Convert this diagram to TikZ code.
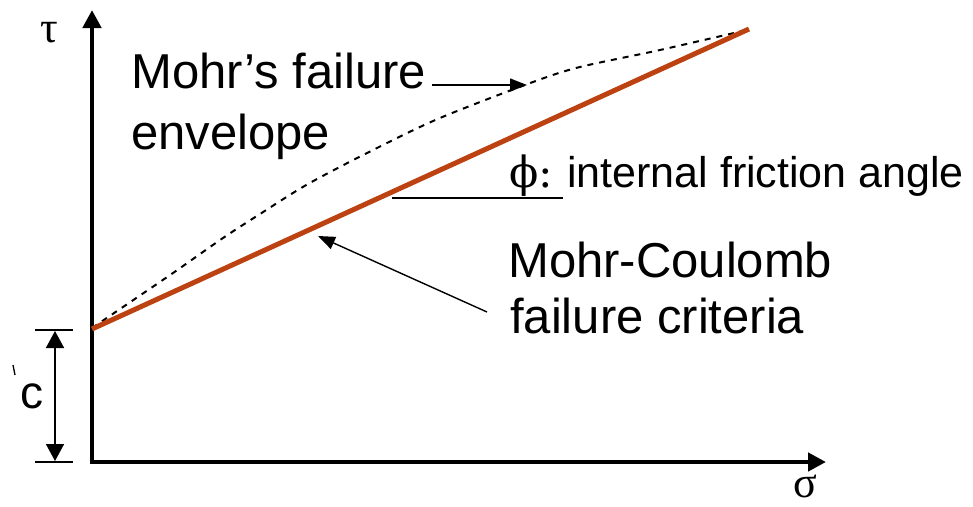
\documentclass[tikz,border=0pt]{standalone}
\usepackage{fontspec}
\setmainfont{Liberation Sans}
\newfontfamily\grk{DejaVu Serif}
\newfontfamily\grks{Liberation Serif}
\usetikzlibrary{arrows.meta}
\definecolor{mcline}{RGB}{188,66,18}
\tikzset{
  axis/.style={line width=4.5pt, -{Triangle[length=18pt,width=18pt]}},
  thinline/.style={line width=1.5pt},
  callout/.style={line width=1.4pt, -{Triangle[length=17pt,width=13pt]}},
  bigtext/.style={inner sep=0pt, anchor=base west, font=\fontsize{49}{58}\selectfont},
  midtext/.style={inner sep=0pt, anchor=base west, font=\fontsize{43}{50}\selectfont},
  greek/.style={inner sep=0pt, font=\grks\fontsize{44}{50}\selectfont}
}
\begin{document}
\begin{tikzpicture}[x=1pt,y=-1pt]
\useasboundingbox (0,0) rectangle (973,506);
% axes
\coordinate (O) at (92,462);
\coordinate (Ytip) at (92,10);
\coordinate (Xtip) at (826,462);
\draw[axis] ([yshift=-2.25pt]O) -- (Ytip);
\draw[axis] ([xshift=-2.25pt]O) -- (Xtip);
\node[greek] (tau) at (49,33) {τ};
\node[greek] (sigma) at (805,486) {σ};
% cohesion dimension
\coordinate (C0) at (92,329);
\coordinate (T1a) at (35,330);
\coordinate (T1b) at (73,330);
\coordinate (T2a) at (35,462);
\coordinate (T2b) at (73,462);
\draw[thinline] (T1a) -- (T1b);
\draw[thinline] (T2a) -- (T2b);
\coordinate (D1) at (55,331);
\coordinate (D2) at (55,461);
\draw[line width=1.6pt, {Triangle[length=17pt,width=18pt]}-{Triangle[length=17pt,width=18pt]}] (D1) -- (D2);
\node[inner sep=0pt, font=\fontsize{46}{50}\selectfont] (c) at (32,396) {c};
\coordinate (m1) at (13,365);
\coordinate (m2) at (15,375);
\draw[line width=1.3pt] (m1) -- (m2);
% Mohr envelope (dashed)
\draw[line width=2pt, dash pattern=on 6pt off 6pt]
  plot[smooth, tension=0.5] coordinates {(92,328) (123,307) (173,273) (223,238) (260,214) (308,184) (373,150) (440,118) (533,82) (580,67) (660,50) (747,30)};
% Mohr-Coulomb line
\coordinate (E) at (749,29);
\draw[line width=5pt, mcline] (C0) -- (E);
% friction angle
\coordinate (H1) at (392,198);
\coordinate (H2) at (563,198);
\draw[thinline] (H1) -- (H2);
\node[inner sep=0pt, anchor=base west, font=\grk\fontsize{43}{50}\selectfont] (phi) at (509,187) {ϕ:};
\node[midtext] (fric) at (567,187) {internal friction angle};
% labels
\node[bigtext] (env1) at (131,88) {Mohr’s failure};
\node[bigtext] (env2) at (131,149) {envelope};
\node[bigtext] (mc1) at (508,277) {Mohr-Coulomb};
\node[bigtext] (mc2) at (510,333) {failure criteria};
% callouts
\coordinate (A1s) at (432,85);
\coordinate (A1e) at (527,85);
\draw[callout] (A1s) -- (A1e);
\coordinate (A2s) at (487,312);
\coordinate (A2e) at (318,236);
\draw[callout] (A2s) -- (A2e);
\end{tikzpicture}
\end{document}
